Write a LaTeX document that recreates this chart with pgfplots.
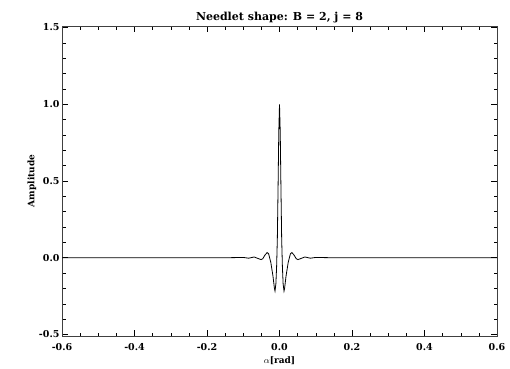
\documentclass[border=0pt]{standalone}
\usepackage{fontspec}
\setmainfont{DejaVu Serif}
\usepackage{pgfplots}
\pgfplotsset{compat=1.18}
\begin{document}
\begin{tikzpicture}
\begin{axis}[
  at={(0pt,0pt)}, anchor=south west,
  scale only axis, width=435pt, height=310pt,
  xmin=-0.6, xmax=0.6, ymin=-0.51, ymax=1.51,
  xtick={-0.6,-0.4,...,0.6}, ytick={-0.5,0,0.5,1,1.5},
  minor x tick num=3, minor y tick num=4,
  /pgf/number format/fixed,
  /pgf/number format/fixed zerofill,
  /pgf/number format/precision=1,
  /pgf/number format/assume math mode=true,
  tick align=inside,
  major tick length=6pt, minor tick length=3.5pt,
  tick style={black, line width=0.5pt},
  axis line style={line width=0.8pt, black!75},
  ticklabel style={font=\fontsize{9.5}{10}\selectfont\bfseries},
  xticklabel style={yshift=-4pt},
  yticklabel style={xshift=1pt},
  title={\bfseries Needlet shape: B = 2, j = 8},
  title style={font=\fontsize{11}{12}\selectfont, yshift=-6pt},
  xlabel={\bfseries $\alpha$[rad]},
  ylabel={\bfseries Amplitude},
  xlabel style={font=\fontsize{9}{10}\selectfont, yshift=0.5pt},
  ylabel style={font=\fontsize{9}{10}\selectfont, yshift=-4pt},
]
\addplot[black, line width=0.8pt] coordinates {
(-0.6,0) (-0.15,0) (-0.12,0.001) (-0.1,0.002) (-0.085,-0.003) (-0.07,0.005)
(-0.058,-0.006) (-0.051,-0.012) (-0.046,-0.006) (-0.04,0.018) (-0.034,0.034)
(-0.030,0.025) (-0.024,-0.03) (-0.018,-0.12) (-0.014,-0.2) (-0.0124,-0.217)
(-0.010,-0.17) (-0.008,-0.06) (-0.006,0.12) (-0.004,0.45) (-0.002,0.82) (0,1.0)
(0.002,0.82) (0.004,0.45) (0.006,0.12) (0.008,-0.06) (0.010,-0.17)
(0.0124,-0.217) (0.014,-0.2) (0.018,-0.12) (0.024,-0.03) (0.030,0.025)
(0.034,0.034) (0.04,0.018) (0.046,-0.006) (0.051,-0.012) (0.058,-0.006)
(0.07,0.005) (0.085,-0.003) (0.1,0.002) (0.12,0.001) (0.15,0) (0.6,0)
};
\end{axis}
\useasboundingbox (-62pt,-30pt) rectangle (448pt,336pt);
\end{tikzpicture}
\end{document}
